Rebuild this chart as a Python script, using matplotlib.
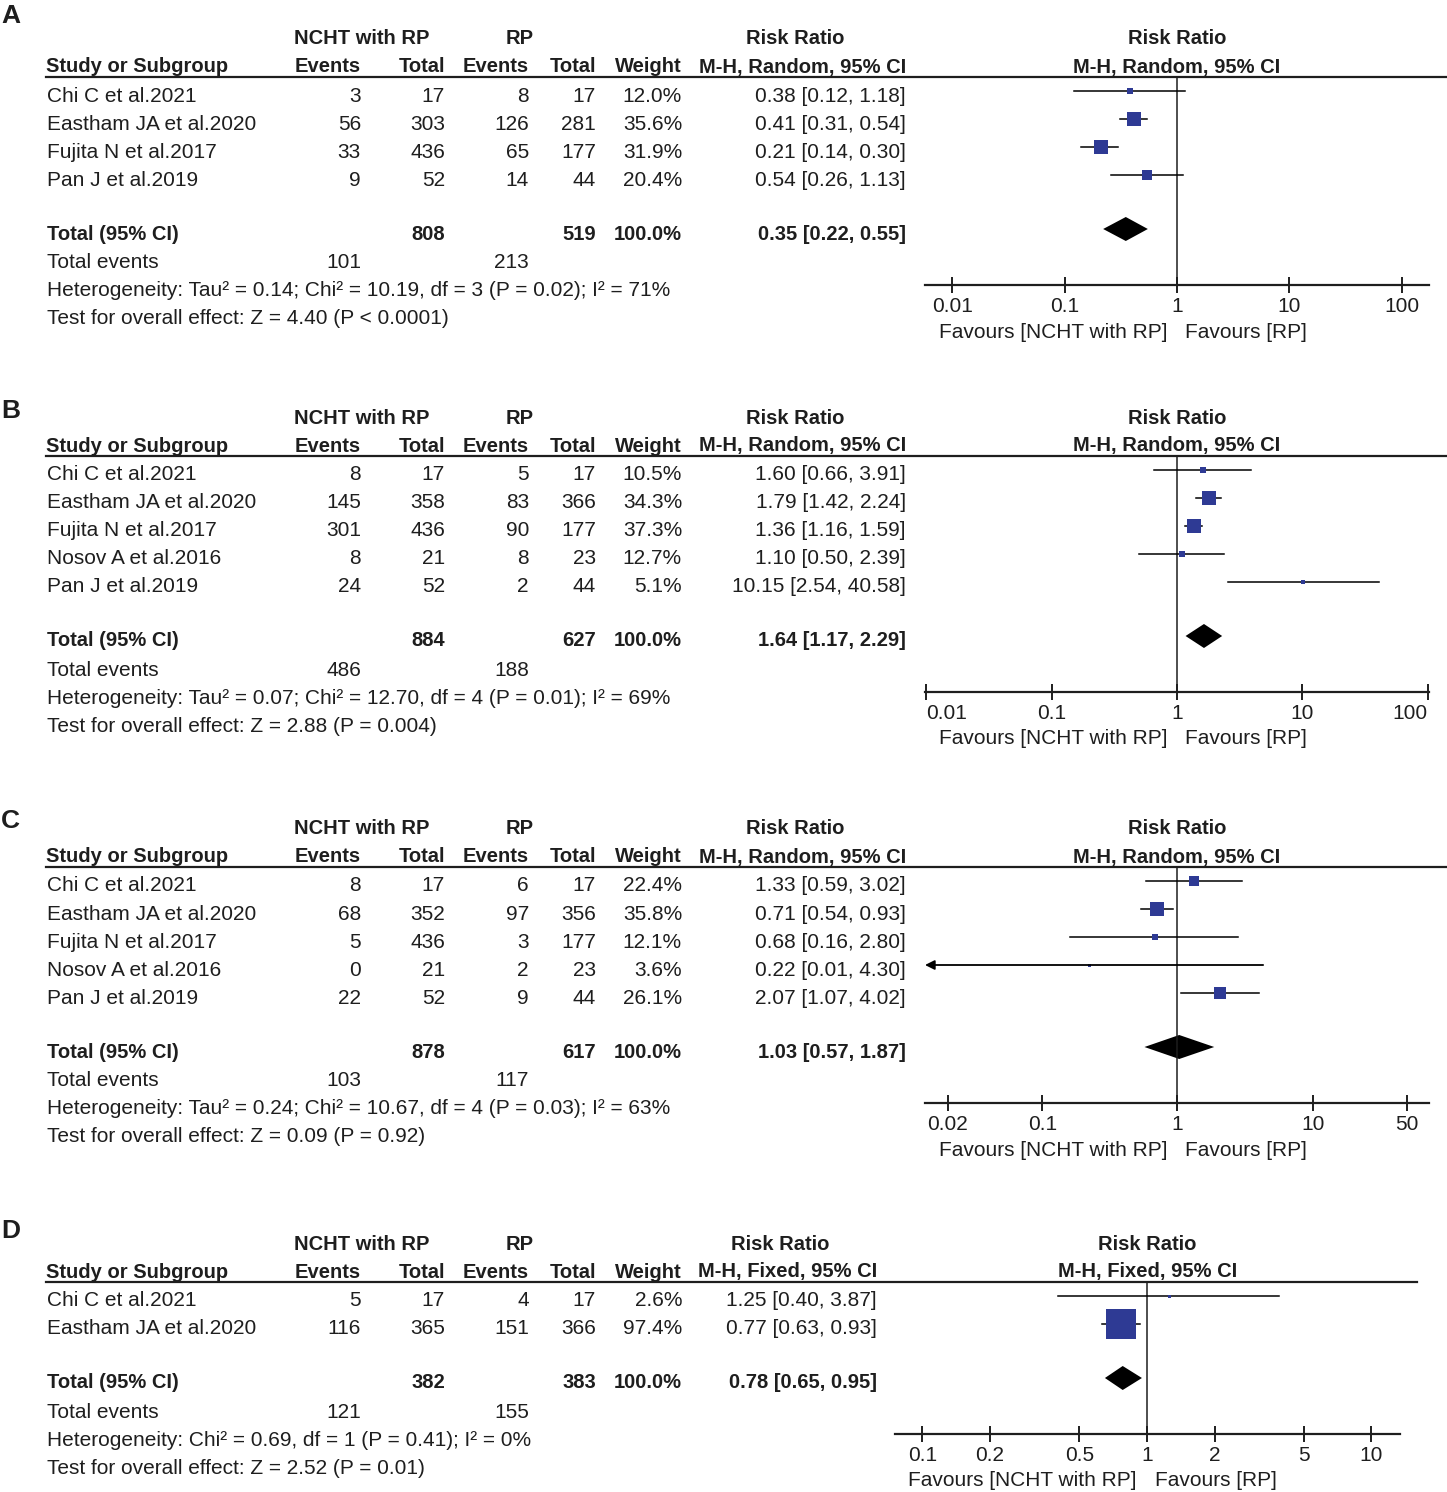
import numpy as np
import matplotlib.pyplot as plt
from matplotlib.lines import Line2D
from matplotlib.ticker import NullLocator

W, H = 1447, 1492
plt.rcParams['font.family'] = ['Liberation Sans', 'DejaVu Sans']
FS = 15
FSB = 14.5   # bold text is a bit narrower in the original
TXT = '#1e1e1e'
BLUE = '#2e3a94'

#=========================================== data
# panel A
a_study = ['Chi C et al.2021', 'Eastham JA et al.2020', 'Fujita N et al.2017', 'Pan J et al.2019']
a_ev1 = [3, 56, 33, 9]
a_n1 = [17, 303, 436, 52]
a_ev2 = [8, 126, 65, 14]
a_n2 = [17, 281, 177, 44]
a_w = [12.0, 35.6, 31.9, 20.4]
a_rr = [0.38, 0.41, 0.21, 0.54]
a_lo = [0.12, 0.31, 0.14, 0.26]
a_hi = [1.18, 0.54, 0.30, 1.13]
a_tot = [808, 519, 0.35, 0.22, 0.55]
a_tev = [101, 213]
a_het = 'Heterogeneity: Tau² = 0.14; Chi² = 10.19, df = 3 (P = 0.02); I² = 71%'
a_test = 'Test for overall effect: Z = 4.40 (P < 0.0001)'
a_ticks = [0.01, 0.1, 1, 10, 100]
a_ticklab = ['0.01', '0.1', '1', '10', '100']

# panel B
b_study = ['Chi C et al.2021', 'Eastham JA et al.2020', 'Fujita N et al.2017', 'Nosov A et al.2016', 'Pan J et al.2019']
b_ev1 = [8, 145, 301, 8, 24]
b_n1 = [17, 358, 436, 21, 52]
b_ev2 = [5, 83, 90, 8, 2]
b_n2 = [17, 366, 177, 23, 44]
b_w = [10.5, 34.3, 37.3, 12.7, 5.1]
b_rr = [1.60, 1.79, 1.36, 1.10, 10.15]
b_lo = [0.66, 1.42, 1.16, 0.50, 2.54]
b_hi = [3.91, 2.24, 1.59, 2.39, 40.58]
b_tot = [884, 627, 1.64, 1.17, 2.29]
b_tev = [486, 188]
b_het = 'Heterogeneity: Tau² = 0.07; Chi² = 12.70, df = 4 (P = 0.01); I² = 69%'
b_test = 'Test for overall effect: Z = 2.88 (P = 0.004)'
b_ticks = [0.01, 0.1, 1, 10, 100]
b_ticklab = ['0.01', '0.1', '1', '10', '100']

# panel C
c_study = ['Chi C et al.2021', 'Eastham JA et al.2020', 'Fujita N et al.2017', 'Nosov A et al.2016', 'Pan J et al.2019']
c_ev1 = [8, 68, 5, 0, 22]
c_n1 = [17, 352, 436, 21, 52]
c_ev2 = [6, 97, 3, 2, 9]
c_n2 = [17, 356, 177, 23, 44]
c_w = [22.4, 35.8, 12.1, 3.6, 26.1]
c_rr = [1.33, 0.71, 0.68, 0.22, 2.07]
c_lo = [0.59, 0.54, 0.16, 0.01, 1.07]
c_hi = [3.02, 0.93, 2.80, 4.30, 4.02]
c_tot = [878, 617, 1.03, 0.57, 1.87]
c_tev = [103, 117]
c_het = 'Heterogeneity: Tau² = 0.24; Chi² = 10.67, df = 4 (P = 0.03); I² = 63%'
c_test = 'Test for overall effect: Z = 0.09 (P = 0.92)'
c_ticks = [0.02, 0.1, 1, 10, 50]
c_ticklab = ['0.02', '0.1', '1', '10', '50']

# panel D
d_study = ['Chi C et al.2021', 'Eastham JA et al.2020']
d_ev1 = [5, 116]
d_n1 = [17, 365]
d_ev2 = [4, 151]
d_n2 = [17, 366]
d_w = [2.6, 97.4]
d_rr = [1.25, 0.77]
d_lo = [0.40, 0.63]
d_hi = [3.87, 0.93]
d_tot = [382, 383, 0.78, 0.65, 0.95]
d_tev = [121, 155]
d_het = 'Heterogeneity: Chi² = 0.69, df = 1 (P = 0.41); I² = 0%'
d_test = 'Test for overall effect: Z = 2.52 (P = 0.01)'
d_ticks = [0.1, 0.2, 0.5, 1, 2, 5, 10]
d_ticklab = ['0.1', '0.2', '0.5', '1', '2', '5', '10']

panels = [
    dict(lab='A', lab_y=16, top=39, method='M-H, Random, 95% CI', ci_r=906, ci_c=803, pl=925, pr=1429, line_r=1447,
         xlim=(10**-2.244, 10**2.244), study=a_study, ev1=a_ev1, n1=a_n1, ev2=a_ev2, n2=a_n2, w=a_w, rr=a_rr, lo=a_lo, hi=a_hi,
         tot=a_tot, tev=a_tev, het=a_het, test=a_test, ticks=a_ticks, ticklab=a_ticklab),
    dict(lab='B', lab_y=411, top=418, method='M-H, Random, 95% CI', ci_r=906, ci_c=803, pl=925, pr=1429, line_r=1447,
         xlim=(0.0098, 102), study=b_study, ev1=b_ev1, n1=b_n1, ev2=b_ev2, n2=b_n2, w=b_w, rr=b_rr, lo=b_lo, hi=b_hi,
         tot=b_tot, tev=b_tev, het=b_het, test=b_test, ticks=b_ticks, ticklab=b_ticklab),
    dict(lab='C', lab_y=821, top=829, method='M-H, Random, 95% CI', ci_r=906, ci_c=803, pl=925, pr=1429, line_r=1447,
         xlim=(10**-1.867, 10**1.86), study=c_study, ev1=c_ev1, n1=c_n1, ev2=c_ev2, n2=c_n2, w=c_w, rr=c_rr, lo=c_lo, hi=c_hi,
         tot=c_tot, tev=c_tev, het=c_het, test=c_test, ticks=c_ticks, ticklab=c_ticklab),
    dict(lab='D', lab_y=1231, top=1244, method='M-H, Fixed, 95% CI', ci_r=877, ci_c=788, pl=895, pr=1400, line_r=1417,
         xlim=(10**-1.122, 10**1.127), study=d_study, ev1=d_ev1, n1=d_n1, ev2=d_ev2, n2=d_n2, w=d_w, rr=d_rr, lo=d_lo, hi=d_hi,
         tot=d_tot, tev=d_tev, het=d_het, test=d_test, ticks=d_ticks, ticklab=d_ticklab),
]

fig = plt.figure(figsize=(W / 100, H / 100), dpi=100)

#text in pixel coords
def T(x, y, s, ha='left', bold=False, size=None):
    if size is None:
        size = FSB if bold else FS
    fig.text(x / W, 1 - y / H, s, ha=ha, va='center', fontsize=size,
             fontweight='bold' if bold else 'normal', color=TXT)

def ci_txt(rr, lo, hi):
    return f'{rr:.2f} [{lo:.2f}, {hi:.2f}]'

for p in panels:
    top = p['top']
    line_y = top + 38
    row0 = top + 57
    n = len(p['study'])
    rows = [row0 + 28 * i for i in range(n)]
    tot_y = rows[-1] + 54
    ax_y = tot_y + 51
    plot_c = (p['pl'] + p['pr']) / 2

    T(1, p['lab_y'], p['lab'], bold=True, size=19)
    # headers
    T(362, top, 'NCHT with RP', ha='center', bold=True)
    T(520, top, 'RP', ha='center', bold=True)
    T(p['ci_c'] - 8, top, 'Risk Ratio', ha='center', bold=True)
    T(plot_c, top, 'Risk Ratio', ha='center', bold=True)
    y2 = top + 28
    T(46, y2, 'Study or Subgroup', bold=True)
    T(361, y2, 'Events', ha='right', bold=True)
    T(445, y2, 'Total', ha='right', bold=True)
    T(529, y2, 'Events', ha='right', bold=True)
    T(596, y2, 'Total', ha='right', bold=True)
    T(682, y2, 'Weight', ha='right', bold=True)
    T(p['ci_c'], y2, p['method'], ha='center', bold=True)
    T(plot_c, y2, p['method'], ha='center', bold=True)
    fig.add_artist(Line2D([46 / W, p['line_r'] / W], [1 - line_y / H] * 2, color=TXT, lw=1.6))

    # study rows
    for i, y in enumerate(rows):
        T(47, y, p['study'][i])
        T(361, y, str(p['ev1'][i]), ha='right')
        T(445, y, str(p['n1'][i]), ha='right')
        T(529, y, str(p['ev2'][i]), ha='right')
        T(596, y, str(p['n2'][i]), ha='right')
        T(682, y, f"{p['w'][i]:.1f}%", ha='right')
        T(p['ci_r'], y, ci_txt(p['rr'][i], p['lo'][i], p['hi'][i]), ha='right')

    t = p['tot']
    T(47, tot_y, 'Total (95% CI)', bold=True)
    T(445, tot_y, str(t[0]), ha='right', bold=True)
    T(596, tot_y, str(t[1]), ha='right', bold=True)
    T(682, tot_y, '100.0%', ha='right', bold=True)
    T(p['ci_r'], tot_y, ci_txt(t[2], t[3], t[4]), ha='right', bold=True)
    T(47, tot_y + 29, 'Total events')
    T(361, tot_y + 29, str(p['tev'][0]), ha='right')
    T(529, tot_y + 29, str(p['tev'][1]), ha='right')
    T(47, tot_y + 57, p['het'])
    T(47, tot_y + 85, p['test'])

    # forest plot
    ax = fig.add_axes([p['pl'] / W, 1 - ax_y / H, (p['pr'] - p['pl']) / W, (ax_y - line_y) / H])
    ax.set_xscale('log')
    ax.set_xlim(*p['xlim'])
    ax.set_ylim(ax_y, line_y)
    ax.patch.set_visible(False)
    for s in ['top', 'left', 'right']:
        ax.spines[s].set_visible(False)
    ax.spines['bottom'].set_linewidth(1.6)
    ax.spines['bottom'].set_color(TXT)
    ax.set_yticks([])
    ax.set_xticks(p['ticks'])
    ax.set_xticklabels(p['ticklab'])
    ax.xaxis.set_minor_locator(NullLocator())
    ax.tick_params(axis='x', direction='inout', length=11, width=1.4, labelsize=FS, pad=3,
                   colors=TXT)
    # edge labels sit inside the axis when the tick is on the end
    labs = ax.get_xticklabels()
    if p['ticks'][0] / p['xlim'][0] < 1.05:
        labs[0].set_ha('left')
    if p['xlim'][1] / p['ticks'][-1] < 1.05:
        labs[-1].set_ha('right')
    ax.axvline(1, color=TXT, lw=1.1)

    xmin = p['xlim'][0]
    for i, y in enumerate(rows):
        ym = y - 5
        lo = p['lo'][i]
        if lo < xmin:
            ax.annotate('', xy=(xmin, ym), xytext=(p['hi'][i], ym),
                        arrowprops=dict(arrowstyle='-|>', color='black', lw=1.3,
                                        mutation_scale=14, shrinkA=0, shrinkB=0))
        else:
            ax.plot([lo, p['hi'][i]], [ym, ym], color='black', lw=1.1)
        side = max(0.95 * p['w'][i] ** 0.76, 3)
        ax.plot(p['rr'][i], ym, marker='s', color=BLUE, ms=side * 0.72, mew=0, clip_on=False)

    # pooled diamond
    yd = tot_y - 5
    ax.fill([t[3], t[2], t[4], t[2]], [yd, yd - 12, yd, yd + 12], color='black', lw=0)

    ax.annotate('Favours [NCHT with RP]', xy=(1, 0), xycoords=('data', 'axes fraction'),
                xytext=(-10 * 0.72, -47 * 0.72), textcoords='offset points',
                ha='right', va='center', fontsize=FS, color=TXT)
    ax.annotate('Favours [RP]', xy=(1, 0), xycoords=('data', 'axes fraction'),
                xytext=(8 * 0.72, -47 * 0.72), textcoords='offset points',
                ha='left', va='center', fontsize=FS, color=TXT)

fig.savefig('out.png', dpi=100)
